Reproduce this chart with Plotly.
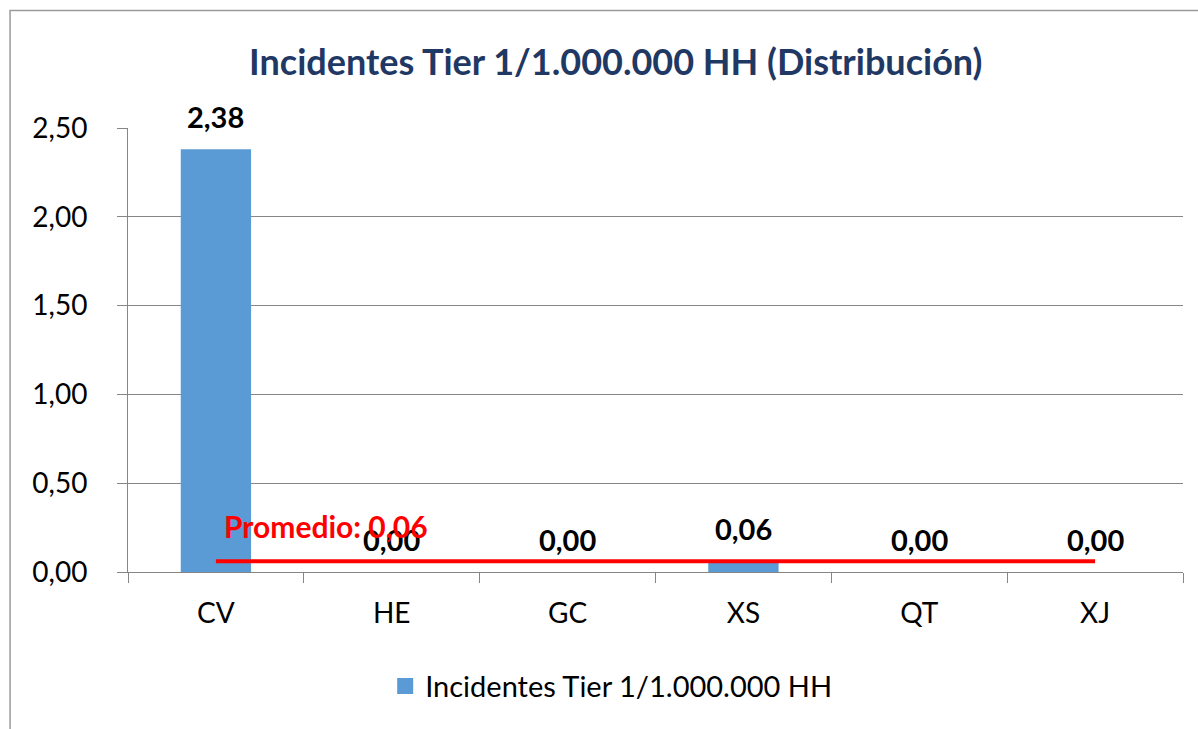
import plotly.graph_objects as go

categories = ["CV", "HE", "GC", "XS", "QT", "XJ"]
values = [2.38, 0.00, 0.00, 0.06, 0.00, 0.00]
average = 0.06
series_name = "Incidentes Tier 1/1.000.000 HH"
title_text = "Incidentes Tier 1/1.000.000 HH (Distribución)"
y_ticks = [0.0, 0.5, 1.0, 1.5, 2.0, 2.5]

def fmt(v):
    return f"{v:.2f}".replace(".", ",")

FONT = "Lato, Open Sans, sans-serif"
BAR_COLOR = "#5B9BD5"

fig = go.Figure()
fig.add_trace(go.Bar(
    x=categories, y=values, name=series_name,
    marker=dict(color=BAR_COLOR, line=dict(width=0)),
    showlegend=False, legendgroup="s",
))
# legend key for the bar series (larger square like the reference)
fig.add_trace(go.Scatter(
    x=[None], y=[None], mode="markers", name=series_name,
    marker=dict(symbol="square", size=16, color=BAR_COLOR),
    showlegend=True, legendgroup="s", hoverinfo="skip",
))
fig.add_trace(go.Scatter(
    x=[categories[0], categories[-1]], y=[average, average],
    mode="lines", line=dict(color="#FF0000", width=4),
    showlegend=False, hoverinfo="skip",
))

annotations = []
for c, v in zip(categories, values):
    annotations.append(dict(
        x=c, y=v, text=f"<b>{fmt(v)}</b>", showarrow=False,
        xref="x", yref="y", yanchor="middle", yshift=33,
        font=dict(family=FONT, size=29, color="#000000"),
    ))
annotations.append(dict(
    x=categories[0], y=average, text=f"<b>Promedio: {fmt(average)}</b>",
    showarrow=False, xref="x", yref="y", xanchor="left", yanchor="middle",
    xshift=6, yshift=35,
    font=dict(family=FONT, size=30, color="#FF0000"),
))

fig.update_layout(
    width=1198, height=729,
    paper_bgcolor="white", plot_bgcolor="white",
    separators=",.",
    margin=dict(l=128, r=15, t=128, b=157),
    title=dict(text=f"<b>{title_text}</b>", x=0.514, xanchor="center",
               y=0.915, yanchor="middle",
               font=dict(family=FONT, size=36, color="#1F3864")),
    bargap=0.6,
    font=dict(family=FONT, size=28, color="#000000"),
    legend=dict(orientation="h", x=0.458, xanchor="center", y=-0.257,
                yanchor="middle", font=dict(family=FONT, size=29, color="#000000"),
                itemsizing="trace", itemwidth=30),
    annotations=annotations,
    shapes=[dict(type="rect", xref="paper", yref="paper",
                 x0=-0.1118, x1=1.2, y0=-0.6, y1=1.2646,
                 line=dict(color="#9A9A9A", width=1.5))],
    yaxis=dict(range=[0, 2.5], tickvals=y_ticks, tickformat=".2f",
               showgrid=True, gridcolor="#868686", gridwidth=1,
               showline=True, linecolor="#868686", linewidth=1,
               ticks="outside", ticklen=10, tickcolor="#868686",
               ticklabelstandoff=24,
               tickfont=dict(family=FONT, size=28, color="#000000"),
               zeroline=False),
    xaxis=dict(showline=True, linecolor="#868686", linewidth=1,
               ticks="outside", ticklen=10, tickcolor="#868686",
               tickson="boundaries", ticklabelstandoff=16,
               tickfont=dict(family=FONT, size=28, color="#000000")),
)

fig.write_html("out.html", config={"displayModeBar": False},
               post_script="document.body.style.margin='0';")
